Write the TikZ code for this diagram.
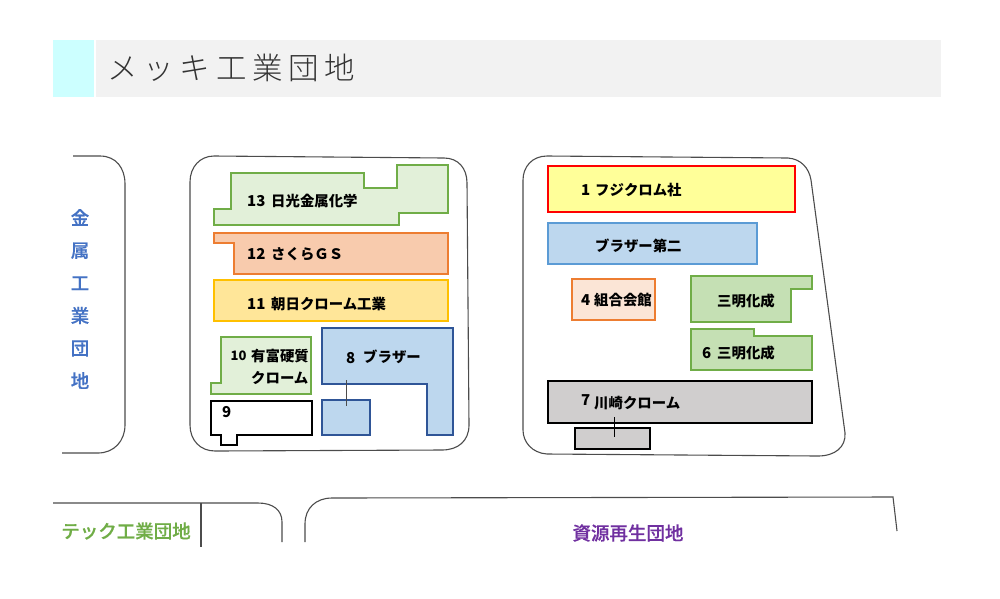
\documentclass[tikz,border=0pt]{standalone}
\usepackage{fontspec}
\setmainfont{Noto Sans CJK JP}
\newfontfamily\thinf{Noto Sans CJK JP Light}[LetterSpace=19]
\newfontfamily\medf{Noto Sans CJK JP Medium}[FakeBold=0.5]
\definecolor{grn}{HTML}{70AD47}
\definecolor{org}{HTML}{ED7D31}
\definecolor{navy}{HTML}{2F5597}
\definecolor{lblue}{HTML}{BDD7EE}
\definecolor{lgrn}{HTML}{E2F0D9}
\definecolor{mgrn}{HTML}{C5E0B4}
\definecolor{gry}{HTML}{D0CECE}
\tikzset{
  lot/.style={line width=1.3pt,line join=miter},
  outline/.style={draw=black!70,line width=1.1pt},
  lab/.style={font=\fontsize{14.4}{14.4}\selectfont\bfseries,anchor=west,inner sep=0pt,text=black},
  num/.style={font=\fontsize{15}{15}\selectfont\bfseries,anchor=west,inner sep=0pt,text=black},
  park/.style={font=\medf\fontsize{18.5}{18.5}\selectfont,inner sep=0pt},
}
\begin{document}
\begin{tikzpicture}[x=1pt,y=-1pt]
\useasboundingbox (0,0) rectangle (1000,598);
% title band
\fill[fill={rgb,255:red,204;green,255;blue,255}] (53,40) rectangle (94,97);
\fill[fill=black!5] (96,40) rectangle (941,97);
\node[anchor=west,inner sep=0pt,text=black!80] (title) at (107,68)
  {\thinf\fontsize{30.5}{30.5}\selectfont メッキ工業団地};
% neighbouring estates
\draw[outline] (73,156) -- (100,156) .. controls (116,156) and (125,168) .. (125,184) -- (125,425) .. controls (125,441) and (114,453) .. (98,453) -- (62,453);
\node[font=\medf\fontsize{18.5}{32.6}\selectfont,text={rgb,255:red,68;green,114;blue,196},align=center,inner sep=0pt] (metal) at (80,299) {金\\属\\工\\業\\団\\地};
\draw[outline] (53,503) -- (258,503) .. controls (273,503) and (282,510) .. (282,522) -- (282,542);
\draw[outline] (201,503) -- (201,547);
\node[park,text=grn] (tech) at (126,531) {テック工業団地};
\draw[outline] (305,542) -- (305,524) .. controls (305,508) and (316,498) .. (332,498) -- (893,497) -- (897,531);
\node[park,text={rgb,255:red,112;green,48;blue,160}] (res) at (628,533) {資源再生団地};
% left block
\draw[outline] (214,156) -- (444,158) .. controls (458,158) and (467,168) .. (467,183) -- (469,425) .. controls (469,441) and (458,450) .. (442,450) -- (215,451) .. controls (200,451) and (190,440) .. (190,425) -- (190,182) .. controls (190,167) and (200,156) .. (214,156) -- cycle;
\draw[lot,draw=grn,fill=lgrn] (231,173) -- (364,173) -- (364,188) -- (397,188) -- (397,165) -- (448,165) -- (448,213) -- (399,213) -- (399,225) -- (214,225) -- (214,209) -- (231,209) -- cycle;
\draw[lot,draw=org,fill={rgb,255:red,248;green,203;blue,173}] (214,233) -- (448,233) -- (448,274) -- (234,274) -- (234,243) -- (214,243) -- cycle;
\draw[lot,draw={rgb,255:red,255;green,192;blue,0},fill={rgb,255:red,255;green,230;blue,153}] (214,280) rectangle (448,321);
\draw[lot,draw=grn,fill=lgrn] (221,337) -- (311,337) -- (311,394) -- (211,394) -- (211,383) -- (221,383) -- cycle;
\draw[lot,draw=black,fill=white] (211,401) -- (312,401) -- (312,435) -- (237,435) -- (237,445) -- (221,445) -- (221,435) -- (211,435) -- cycle;
\draw[lot,draw=navy,fill=lblue] (322,328) -- (453,328) -- (453,435) -- (427,435) -- (427,384) -- (322,384) -- cycle;
\draw[lot,draw=navy,fill=lblue] (322,400) rectangle (370,435);
\draw[draw=black!70,line width=1pt] (346,380) -- (346,406);
\node[num] (n13) at (247,201) {13};
\node[lab] (t13) at (271,201) {日光金属化学};
\node[num] (n12) at (247,254) {12};
\node[lab] (t12) at (271,254) {さくらＧＳ};
\node[num] (n11) at (247,304) {11};
\node[lab] (t11) at (271,304) {朝日クローム工業};
\node[num,font=\fontsize{13}{13}\selectfont\bfseries] (n10) at (230.5,356) {10};
\node[lab] (t10) at (251,356) {有富硬質};
\node[lab] (t10b) at (251,378) {クローム};
\node[num] (n9) at (222,412) {9};
\node[num] (n8) at (346,358.500) {8};
\node[lab] (t8) at (363,357) {ブラザー};
% right block
\draw[outline] (547,156) -- (788,158) .. controls (801,159) and (809,168) .. (811,180) -- (845,433) .. controls (846,447) and (835,456) .. (818,456) -- (547,454) .. controls (532,453) and (523,442) .. (523,430) -- (523,180) .. controls (523,167) and (532,156) .. (547,156) -- cycle;
\draw[lot,draw=red,fill={rgb,255:red,255;green,255;blue,153}] (548,166) rectangle (795,212);
\draw[lot,draw={rgb,255:red,91;green,155;blue,213},fill=lblue] (548,223) rectangle (757,264);
\draw[lot,draw=org,fill={rgb,255:red,251;green,229;blue,214}] (572,279) rectangle (655,320);
\draw[lot,draw=grn,fill=mgrn] (691,276) -- (812,276) -- (812,289) -- (791,289) -- (791,322) -- (691,322) -- cycle;
\draw[lot,draw=grn,fill=mgrn] (691,329) -- (754,329) -- (754,336) -- (812,336) -- (812,370) -- (691,370) -- cycle;
\draw[lot,draw=black,fill=gry] (548,381) rectangle (812,423);
\draw[lot,draw=black,fill=gry] (575,428) rectangle (650,449);
\draw[draw=black,line width=.9pt] (614,417) -- (614,437);
\node[num] (n1) at (581,190) {1};
\node[lab] (t1) at (595,190) {フジクロム社};
\node[lab] (t2) at (595,246) {ブラザー第二};
\node[num] (n4) at (581,300) {4};
\node[lab] (t4) at (594,300) {組合会館};
\node[lab] (t5) at (717,301) {三明化成};
\node[num] (n6) at (702,353) {6};
\node[lab] (t6) at (717,353) {三明化成};
\node[num] (n7) at (581,400) {7};
\node[lab] (t7) at (594,403) {川崎クローム};
\end{tikzpicture}
\end{document}
